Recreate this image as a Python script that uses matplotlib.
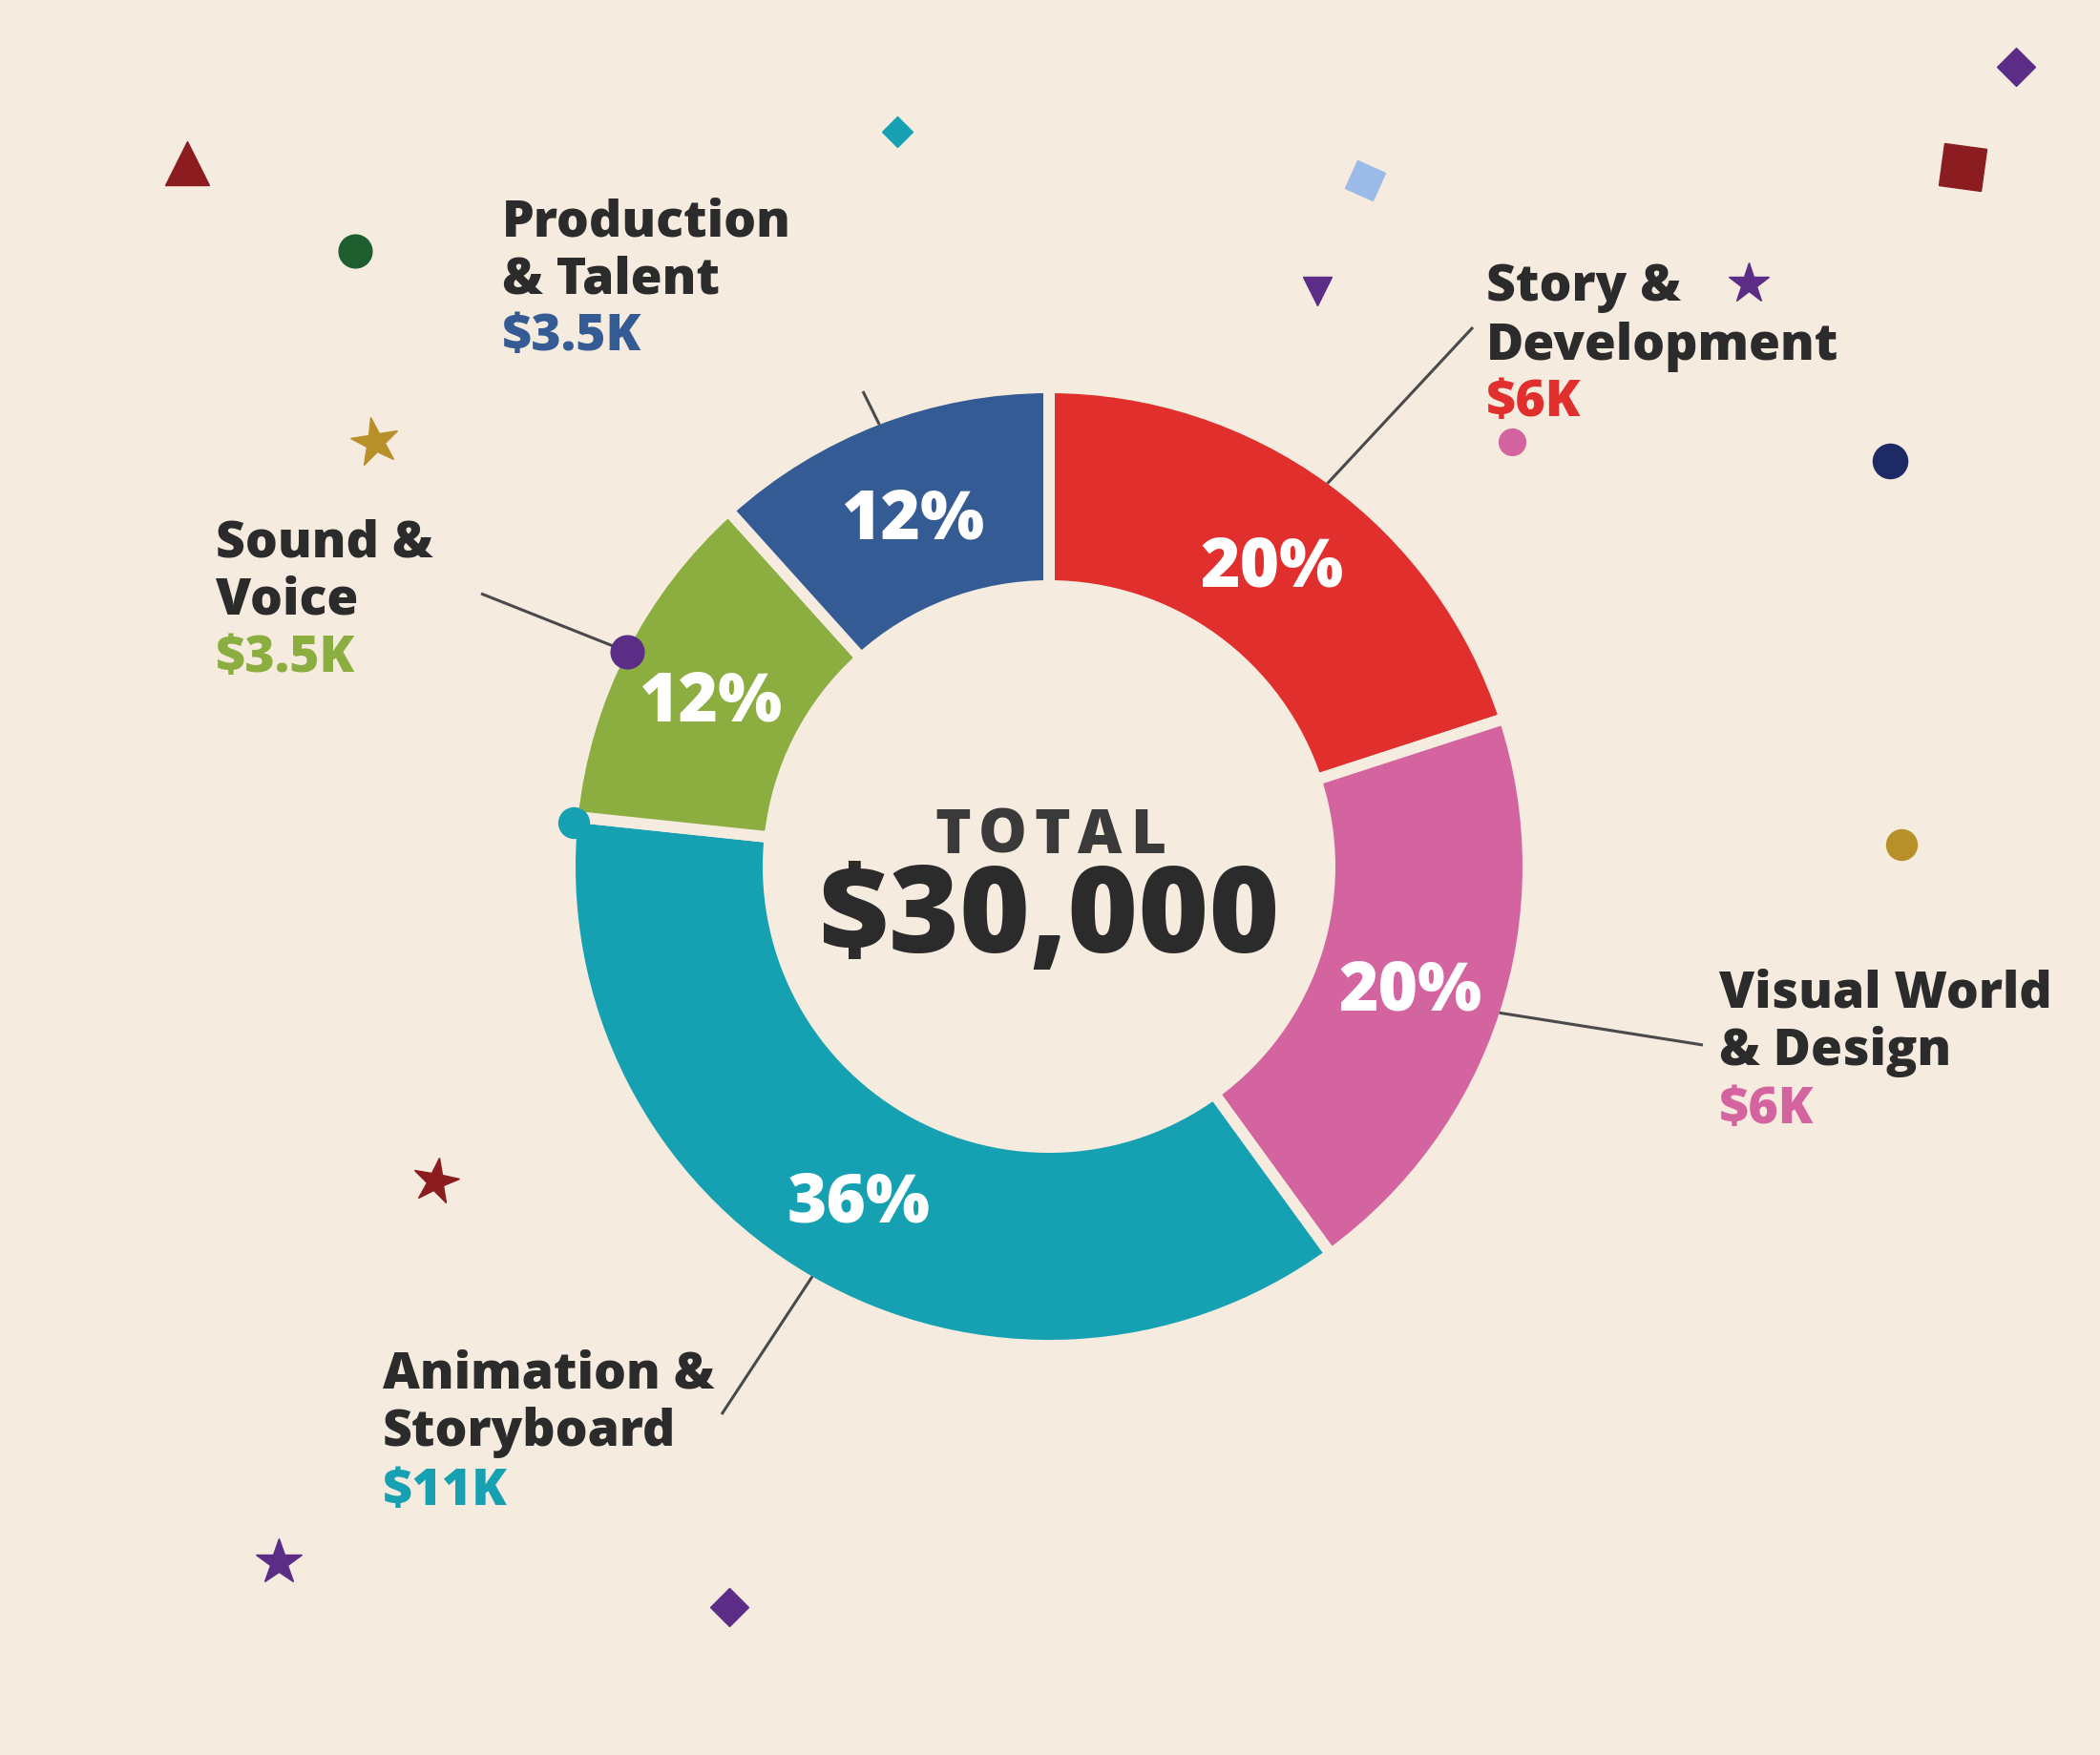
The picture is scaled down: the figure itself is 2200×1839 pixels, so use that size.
import matplotlib
matplotlib.use("Agg")
import matplotlib.pyplot as plt
import numpy as np
from matplotlib.markers import MarkerStyle
from matplotlib.transforms import Affine2D

# ---------------- data ----------------
categories = ["Story & Development", "Visual World & Design", "Animation & Storyboard",
              "Sound & Voice", "Production & Talent"]
name_lines = [["Story &", "Development"], ["Visual World", "& Design"],
              ["Animation &", "Storyboard"], ["Sound &", "Voice"], ["Production", "& Talent"]]
values_k = [6, 6, 11, 3.5, 3.5]
value_labels = ["$6K", "$6K", "$11K", "$3.5K", "$3.5K"]
pct_labels = ["20%", "20%", "36%", "12%", "12%"]
total_title = "TOTAL"
total_label = "$30,000"
colors = ["#E02F2D", "#D464A0", "#16A1B3", "#8CAD40", "#355B94"]

# ---------------- style / layout ----------------
BG = "#F5EBDF"
DARK = "#2B2B2B"
W, H = 2200, 1840
FONT = ["Open Sans", "DejaVu Sans"]
WEIGHT = "heavy"

def Y(y):
    return H - y

fig = plt.figure(figsize=(W / 100, H / 100), dpi=100, facecolor=BG)
ax = fig.add_axes([0, 0, 1, 1])
ax.set_facecolor(BG)

cx, cy = 1099, 909
R_OUT, R_IN = 496, 300
GAP_PX = 12
lw_pt = GAP_PX * 0.72

pct_iter = iter(pct_labels)
wedges, label_texts, autotexts = ax.pie(
    values_k, colors=colors, startangle=90, counterclock=False,
    center=(cx, Y(cy)), radius=R_OUT + GAP_PX / 2,
    wedgeprops=dict(width=(R_OUT - R_IN) + GAP_PX, edgecolor=BG, linewidth=lw_pt),
    autopct=lambda p: next(pct_iter), pctdistance=398 / (R_OUT + GAP_PX / 2),
    textprops=dict(color="white", fontsize=51, fontweight=WEIGHT, family=FONT))
for t in label_texts:
    t.remove()
for t in autotexts:
    t.set_va("center_baseline")
    t.set_ha("center")

ax.set_xlim(0, W)
ax.set_ylim(0, H)
ax.set_aspect("equal")
ax.axis("off")

# leader lines: start on the outer ring at each wedge's mid angle
line_outer = [(1543, 344), (1784, 1096), (756, 1483), (504, 623), (904, 411)]
for w, (ox, oy) in zip(wedges, line_outer):
    mid = np.deg2rad((w.theta1 + w.theta2) / 2)
    sx = cx + R_OUT * np.cos(mid)
    sy = Y(cy) + R_OUT * np.sin(mid)
    ax.plot([sx, ox], [sy, Y(oy)], color="#4A4A4A", lw=2.2, solid_capstyle="butt", zorder=3)

# purple dot at the Sound leader, teal dot at Animation start
w_sound = wedges[3]
mid = np.deg2rad((w_sound.theta1 + w_sound.theta2) / 2)
ax.plot(cx + R_OUT * np.cos(mid), Y(cy) + R_OUT * np.sin(mid), "o", ms=25,
        color="#5B2D86", zorder=4)
w_anim = wedges[2]
a0 = np.deg2rad(w_anim.theta1 + 0.7)
ax.plot(cx + (R_OUT + 4) * np.cos(a0), Y(cy) + (R_OUT + 4) * np.sin(a0), "o", ms=23,
        color=colors[2], zorder=4)

# category labels
LABEL_FS = 38.5
label_pos = [(1557, [315, 377, 436]), (1801, [1056, 1116, 1177]), (401, [1455, 1515, 1577]),
             (226, [583, 643, 704]), (526, [248, 308, 367])]
for (lx, bls), lines, val, col in zip(label_pos, name_lines, value_labels, colors):
    for txt, b in zip(lines, bls[:2]):
        ax.text(lx, Y(b), txt, ha="left", va="baseline", fontsize=LABEL_FS, fontweight=WEIGHT,
                color=DARK, family=FONT)
    ax.text(lx, Y(bls[2]), val, ha="left", va="baseline", fontsize=LABEL_FS, fontweight=WEIGHT,
            color=col, family=FONT)

# center total: letter-spaced title
renderer = fig.canvas.get_renderer()
TITLE_FS = 46
TRACK = 8  # px between letters
widths = []
for ch in total_title:
    t = ax.text(0, 0, ch, fontsize=TITLE_FS, fontweight=WEIGHT, family=FONT)
    widths.append(t.get_window_extent(renderer).width)
    t.remove()
total_w = sum(widths) + TRACK * (len(total_title) - 1)
x0 = 1100 - total_w / 2
for ch, wd in zip(total_title, widths):
    ax.text(x0, Y(894), ch, ha="left", va="baseline", fontsize=TITLE_FS, fontweight=WEIGHT,
            color="#3A3A3A", family=FONT)
    x0 += wd + TRACK

ax.text(1099, Y(998), total_label, ha="center", va="baseline", fontsize=91, fontweight=WEIGHT,
        color=DARK, family=FONT)

# decorative confetti
def rot(marker, deg):
    return MarkerStyle(marker, transform=Affine2D().rotate_deg(deg))

deco = [
    (196, 172, "^", 33, "#8B1C1F", 0),
    (372, 264, "o", 25, "#1E5E2E", 0),
    (940, 139, "D", 16, "#16A1B3", 0),
    (393, 464, "*", 38, "#B8902A", 10),
    (1430, 190, "s", 23, "#9DBBE8", -25),
    (1380, 306, "v", 22, "#5B2D86", 0),
    (2112, 71, "D", 20, "#5B2D86", 0),
    (2056, 176, "s", 32, "#8B1C1F", -8),
    (1832, 298, "*", 32, "#5B2D86", 0),
    (1584, 464, "o", 20, "#D464A0", 0),
    (1980, 484, "o", 26, "#1E2A66", 0),
    (1992, 886, "o", 23, "#B8902A", 0),
    (456, 1239, "*", 36, "#8B1C1F", -10),
    (292, 1638, "*", 36, "#5B2D86", 0),
    (764, 1685, "D", 20, "#5B2D86", 0),
]
for x, y, m, s, c, r in deco:
    ax.plot(x, Y(y), marker=rot(m, r), ms=s, color=c, linestyle="none", zorder=2)

fig.savefig("out.png", dpi=100, facecolor=BG)
